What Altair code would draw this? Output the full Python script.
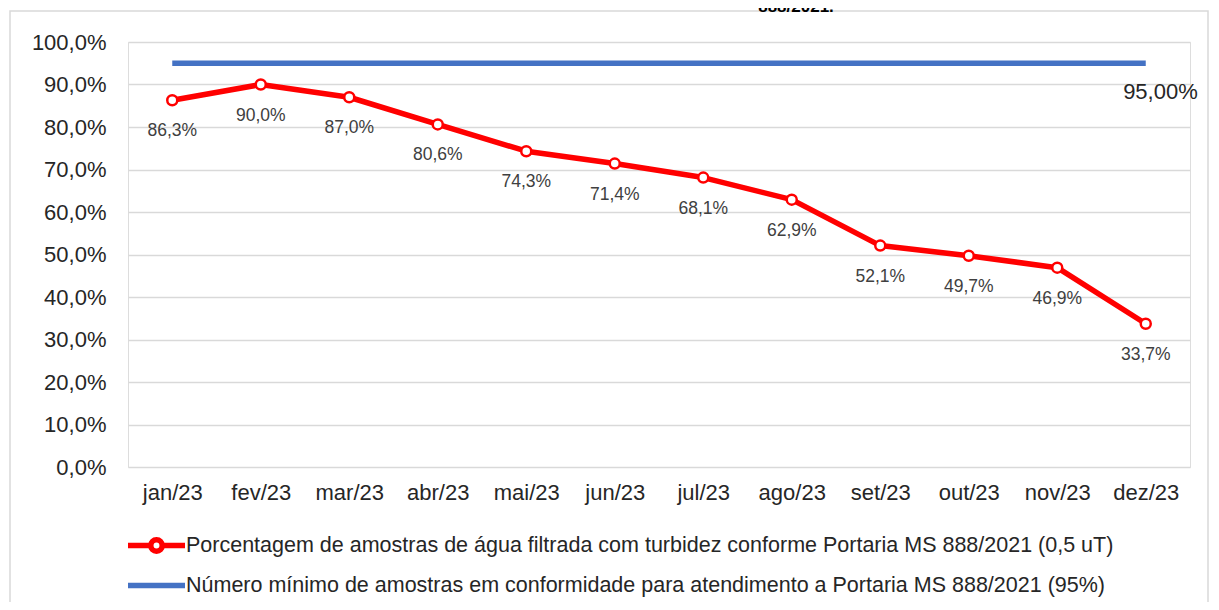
import altair as alt
import pandas as pd

meses = ["jan/23", "fev/23", "mar/23", "abr/23", "mai/23", "jun/23",
         "jul/23", "ago/23", "set/23", "out/23", "nov/23", "dez/23"]
porcentagem = [86.3, 90.0, 87.0, 80.6, 74.3, 71.4, 68.1, 62.9, 52.1, 49.7, 46.9, 33.7]
meta = [95.0, 95.0, 95.0, 95.0, 95.0, 95.0, 95.0, 95.0, 95.0, 95.0, 95.0, 95.0]
serie_turbidez = "Porcentagem de amostras de água filtrada com turbidez conforme Portaria MS 888/2021 (0,5 uT)"
serie_meta = "Número mínimo de amostras em conformidade para atendimento a Portaria MS 888/2021 (95%)"
titulo = "888/2021."
y_ticks = [0, 10, 20, 30, 40, 50, 60, 70, 80, 90, 100]

df_t = pd.DataFrame({"mes": meses, "valor": porcentagem, "serie": serie_turbidez})
df_m = pd.DataFrame({"mes": meses, "valor": meta, "serie": serie_meta})
df = pd.concat([df_t, df_m], ignore_index=True)

FONT = "Liberation Sans"
W, H = 1062, 425

x_enc = alt.X("mes:N", sort=meses, title=None,
              axis=alt.Axis(labelAngle=0, domain=False, ticks=False, grid=False,
                            labelFont=FONT, labelFontSize=22, labelColor="#262626",
                            labelPadding=15))
y_enc = alt.Y("valor:Q", title=None,
              scale=alt.Scale(domain=[0, 100], nice=False),
              axis=alt.Axis(values=y_ticks, domain=False, ticks=False,
                            gridColor="#d9d9d9", gridWidth=1.5,
                            labelFont=FONT, labelFontSize=22, labelColor="#262626",
                            labelPadding=22,
                            labelExpr="replace(format(datum.value, '.1f'), '.', ',') + '%'"))

path_turbidez = "M-1.5,0H-0.3M0.3,0A0.3,0.3 0 1,1 -0.3,0A0.3,0.3 0 1,1 0.3,0M0.3,0H1.5"
path_meta = "M-1.5,0H1.5"

lines = alt.Chart(df).mark_line(strokeWidth=5.5, strokeJoin="round").encode(
    x=x_enc, y=y_enc,
    color=alt.Color("serie:N",
                    scale=alt.Scale(domain=[serie_turbidez, serie_meta],
                                    range=["#FF0000", "#4472C4"]),
                    legend=alt.Legend(title=None, orient="none", legendX=6.5, legendY=481.5,
                                      direction="vertical",
                                      symbolType=alt.ExprRef(expr="datum.index === 0 ? '" + path_turbidez + "' : '" + path_meta + "'"),
                                      symbolSize=1444, symbolStrokeWidth=5.5,
                                      labelFont=FONT, labelFontSize=21.5,
                                      labelColor="#262626", labelLimit=0,
                                      labelOffset=7.5, rowPadding=1, padding=0)),
    detail="serie:N",
)

points = alt.Chart(df_t).mark_point(filled=True, fill="white", stroke="#FF0000",
                                    strokeWidth=2.5, size=100, opacity=1).encode(
    x=alt.X("mes:N", sort=meses), y="valor:Q")

labels = alt.Chart(df_t).transform_calculate(
    rotulo="replace(format(datum.valor, '.1f'), '.', ',') + '%'"
).mark_text(font=FONT, fontSize=17.5, color="#404040", dy=31, baseline="middle").encode(
    x=alt.X("mes:N", sort=meses), y="valor:Q", text="rotulo:N")

meta_label = alt.Chart(df_m.tail(1)).transform_calculate(
    rotulo="replace(format(datum.valor, '.2f'), '.', ',') + '%'"
).mark_text(font=FONT, fontSize=22, color="#262626", dx=52, dy=29, align="right",
            baseline="middle").encode(
    x=alt.X("mes:N", sort=meses), y="valor:Q", text="rotulo:N")

frame = alt.Chart(pd.DataFrame({"a": [0]})).mark_rect(
    filled=False, stroke="#d9d9d9", strokeWidth=1.5).encode(
    x=alt.value(-118), x2=alt.value(1080), y=alt.value(-31), y2=alt.value(600))

title = alt.Chart(pd.DataFrame({"t": [titulo]})).mark_text(
    font=FONT, fontSize=17, fontWeight="bold", color="#000000", baseline="alphabetic"
).encode(x=alt.value(668), y=alt.value(-30), text="t:N")

chart = alt.layer(frame, title, lines, points, labels, meta_label).properties(
    width=W, height=H,
    autosize=alt.AutoSizeParams(type="none"),
    padding={"left": 120, "top": 34, "right": 21, "bottom": 135},
).configure_view(stroke=None).configure(background="white")

chart.save("out.html", embed_options={"renderer": "svg", "actions": False})
